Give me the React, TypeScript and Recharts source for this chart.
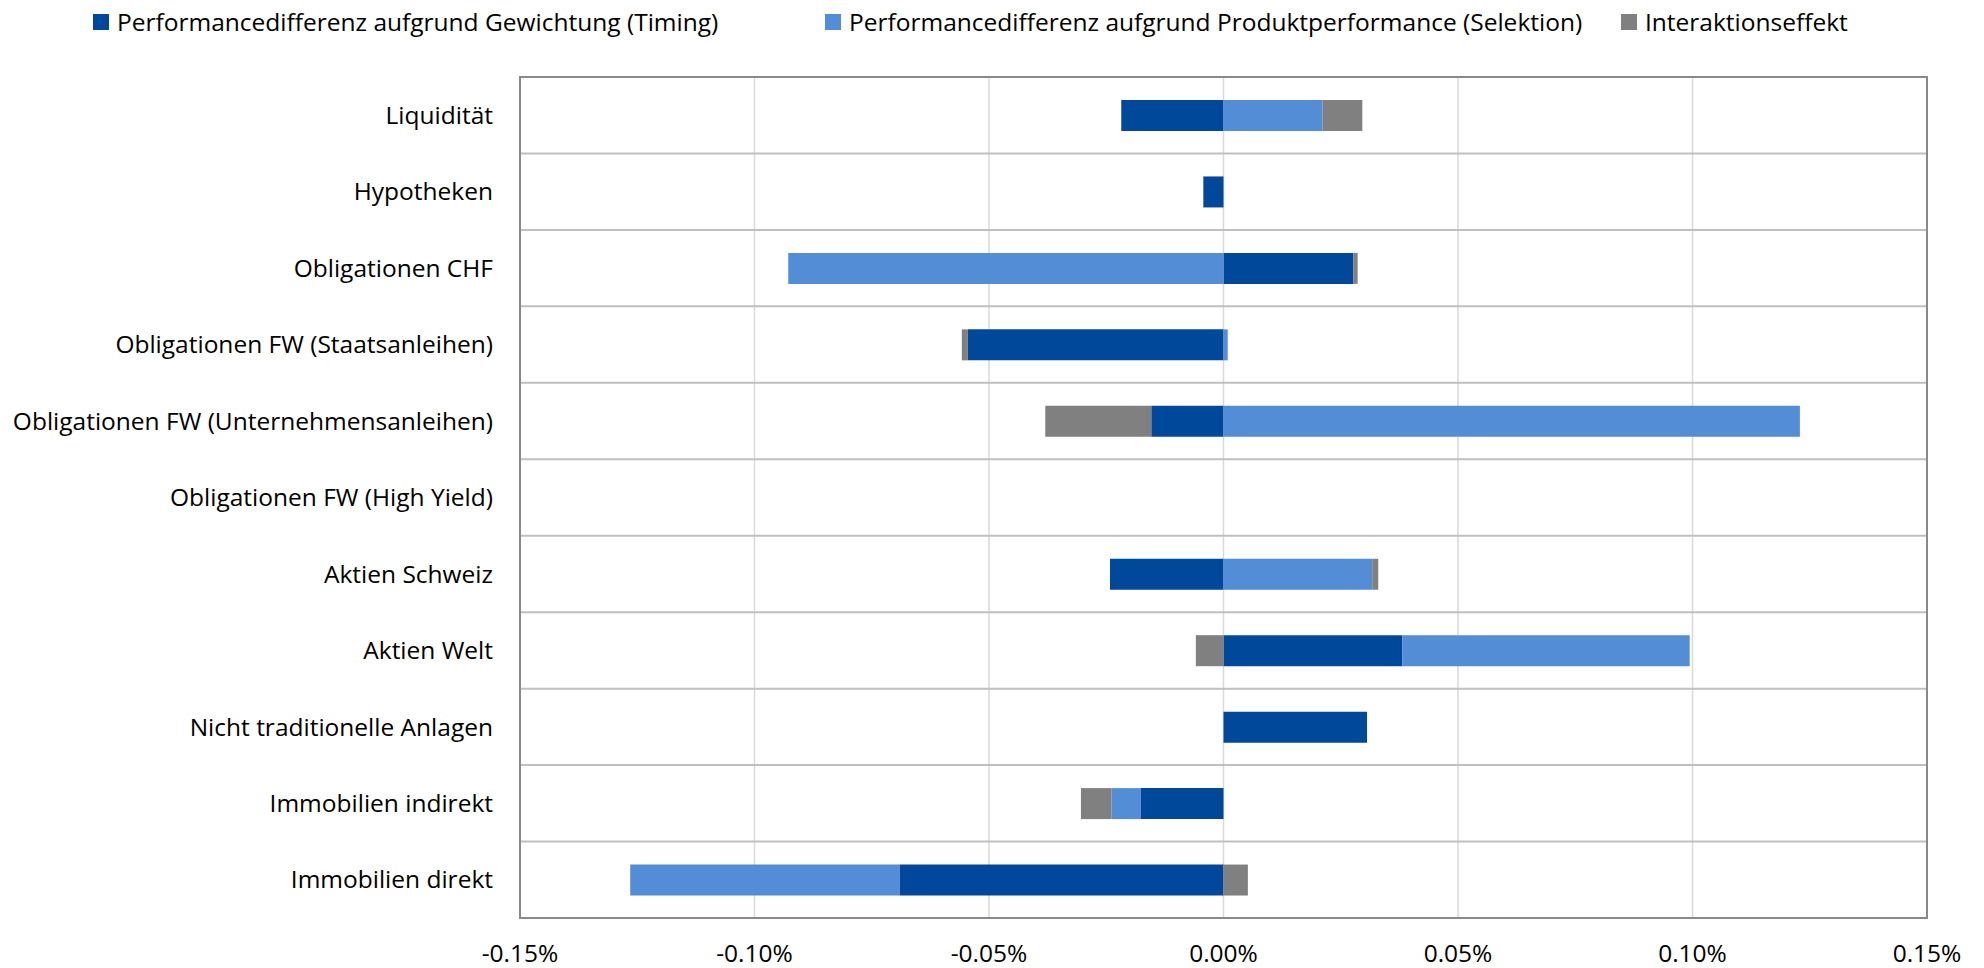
import React from "react";
import {
  BarChart,
  Bar,
  XAxis,
  YAxis,
  CartesianGrid,
  Legend,
  ReferenceArea,
} from "recharts";

const categories = [
  "Liquidität",
  "Hypotheken",
  "Obligationen CHF",
  "Obligationen FW (Staatsanleihen)",
  "Obligationen FW (Unternehmensanleihen)",
  "Obligationen FW (High Yield)",
  "Aktien Schweiz",
  "Aktien Welt",
  "Nicht traditionelle Anlagen",
  "Immobilien indirekt",
  "Immobilien direkt",
];

// values in percent
const timing = [-0.0218, -0.0043, 0.0277, -0.0545, -0.0154, 0, -0.0242, 0.0381, 0.0306, -0.0176, -0.0691];
const selection = [0.0211, 0, -0.0928, 0.0009, 0.1229, 0, 0.0317, 0.0613, 0, -0.0063, -0.0574];
const interaction = [0.0085, 0, 0.0009, -0.0013, -0.0226, 0, 0.0013, -0.0059, 0, -0.0065, 0.0052];

const xTicks = [-0.15, -0.1, -0.05, 0, 0.05, 0.1, 0.15];

const seriesNames = [
  "Performancedifferenz aufgrund Gewichtung (Timing)",
  "Performancedifferenz aufgrund Produktperformance (Selektion)",
  "Interaktionseffekt",
];
const seriesColors = ["#00499A", "#538DD5", "#808080"];

const data = categories.map((c, i) => ({
  name: c,
  timing: timing[i],
  selection: selection[i],
  interaction: interaction[i],
}));

const FONT = "'Open Sans', sans-serif";
const FS = 24.5;
const legendX = [93, 825, 1621];

const renderLegend = () => {
  return (
    <div style={{ position: "relative", width: 1984, height: 77, fontFamily: FONT }}>
      {seriesNames.map((name, i) => (
        <div
          key={i}
          style={{
            position: "absolute",
            left: legendX[i],
            top: 5,
            height: 33,
            display: "flex",
            alignItems: "center",
            whiteSpace: "nowrap",
          }}
        >
          <span style={{ display: "inline-block", width: 16, height: 16, background: seriesColors[i], marginRight: 8 }} />
          <span style={{ fontSize: FS, color: "#000" }}>{name}</span>
        </div>
      ))}
    </div>
  );
};

export default function App() {
  return (
    <div style={{ width: 1984, height: 968 }}>
      <style>{`body{margin:0;}`}</style>
      <BarChart
        width={1984}
        height={968}
        data={data}
        layout="vertical"
        stackOffset="sign"
        margin={{ top: 0, right: 57, bottom: 0, left: 0 }}
      >
        <CartesianGrid horizontal={false} vertical={true} stroke="#D9D9D9" strokeWidth={1.5} />
        <CartesianGrid
          vertical={false}
          horizontal={true}
          stroke="#BFBFBF"
          strokeWidth={2}
          horizontalCoordinatesGenerator={(props: any) => {
            const off = props.offset;
            const n = categories.length;
            return Array.from({ length: n + 1 }, (_, i) => off.top + (i * off.height) / n);
          }}
        />
        <XAxis
          type="number"
          domain={[-0.15, 0.15]}
          ticks={xTicks}
          tickFormatter={(v: number) => v.toFixed(2) + "%"}
          height={50}
          axisLine={false}
          tickLine={false}
          tickSize={0}
          tickMargin={27}
          tick={{ fill: "#000", fontSize: FS, fontFamily: FONT }}
          interval={0}
          allowDataOverflow
        />
        <YAxis
          type="category"
          dataKey="name"
          width={520}
          axisLine={false}
          tickLine={false}
          tickSize={0}
          tickMargin={27}
          tick={{ fill: "#000", fontSize: FS, fontFamily: FONT }}
          interval={0}
        />
        <Legend verticalAlign="top" align="left" content={renderLegend} wrapperStyle={{ top: 0, left: 0 }} />
        <Bar dataKey="timing" name={seriesNames[0]} stackId="s" fill={seriesColors[0]} barSize={31} isAnimationActive={false} />
        <Bar dataKey="selection" name={seriesNames[1]} stackId="s" fill={seriesColors[1]} barSize={31} isAnimationActive={false} />
        <Bar dataKey="interaction" name={seriesNames[2]} stackId="s" fill={seriesColors[2]} barSize={31} isAnimationActive={false} />
        <ReferenceArea x1={-0.15} x2={0.15} fill="none" stroke="#898989" strokeWidth={2} ifOverflow="visible" />
      </BarChart>
    </div>
  );
}
